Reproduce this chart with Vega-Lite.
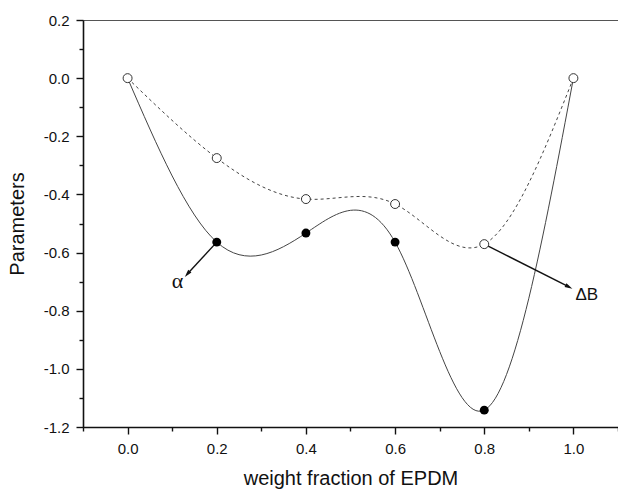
{
  "$schema": "https://vega.github.io/schema/vega-lite/v6.json",
  "width": 535,
  "height": 407,
  "autosize": {"type": "none"},
  "padding": {"left": 83, "top": 20, "right": 0, "bottom": 62},
  "background": "white",
  "config": {
    "view": {"stroke": "#555", "strokeWidth": 1},
    "font": "Liberation Sans",
    "axis": {
      "grid": false,
      "domainColor": "#111",
      "domainWidth": 1.6,
      "tickColor": "#111",
      "tickWidth": 1.4,
      "labelColor": "#111",
      "titleColor": "#111",
      "labelFont": "Liberation Sans",
      "titleFont": "Liberation Sans",
      "labelFontSize": 15,
      "titleFontSize": 20,
      "titleFontWeight": "normal"
    }
  },
  "datasets": {
    "curves": [
      {"s": "alpha", "x": 0.0, "y": 0.0},
      {"s": "alpha", "x": 0.2, "y": -0.564},
      {"s": "alpha", "x": 0.4, "y": -0.533},
      {"s": "alpha", "x": 0.6, "y": -0.564},
      {"s": "alpha", "x": 0.8, "y": -1.142},
      {"s": "alpha", "x": 1.0, "y": 0.0},
      {"s": "dB", "x": 0.0, "y": 0.0},
      {"s": "dB", "x": 0.2, "y": -0.275},
      {"s": "dB", "x": 0.4, "y": -0.416},
      {"s": "dB", "x": 0.6, "y": -0.433},
      {"s": "dB", "x": 0.8, "y": -0.571},
      {"s": "dB", "x": 1.0, "y": 0.0}
    ],
    "arrows": [
      {"name": "alpha", "x": 0.2, "y": -0.564, "x2": 0.134, "y2": -0.674},
      {"name": "dB", "x": 0.8, "y": -0.571, "x2": 0.99, "y2": -0.718}
    ],
    "labels": [
      {"label": "α", "font": "serif", "x": 0.112, "y": -0.697},
      {"label": "ΔB", "font": "sans", "x": 1.03, "y": -0.745}
    ]
  },
  "layer": [
    {
      "mark": {"type": "rule", "color": "#555", "strokeWidth": 1, "strokeDash": [6, 4]},
      "encoding": {
        "y": {"datum": 0, "type": "quantitative", "scale": {"domain": [-1.2, 0.2], "nice": false, "zero": false}, "axis": null}
      }
    },
    {
      "data": {"name": "curves"},
      "transform": [{"filter": "datum.s === 'alpha'"}],
      "mark": {"type": "line", "interpolate": "natural", "color": "#444", "strokeWidth": 1},
      "encoding": {
        "x": {"field": "x", "type": "quantitative", "scale": {"domain": [-0.1, 1.1], "nice": false, "zero": false},
          "axis": {"values": [0, 0.2, 0.4, 0.6, 0.8, 1.0], "labelExpr": "replace(format(datum.value, '.1f'), '\u2212', '-')", "tickSize": 7, "labelPadding": 7, "title": "weight fraction of EPDM", "titlePadding": 12}},
        "y": {"field": "y", "type": "quantitative", "scale": {"domain": [-1.2, 0.2], "nice": false, "zero": false},
          "axis": {"values": [-1.2, -1.0, -0.8, -0.6, -0.4, -0.2, 0.0, 0.2], "labelExpr": "replace(format(datum.value, '.1f'), '\u2212', '-')", "tickSize": 7, "labelPadding": 7, "title": "Parameters", "titlePadding": 16}}
      }
    },
    {
      "data": {"name": "curves"},
      "transform": [{"filter": "datum.s === 'dB'"}],
      "mark": {"type": "line", "interpolate": "natural", "color": "#444", "strokeWidth": 1, "strokeDash": [3, 3]},
      "encoding": {
        "x": {"field": "x", "type": "quantitative",
          "axis": {"values": [-0.1, 0.1, 0.3, 0.5, 0.7, 0.9, 1.1], "labels": false, "domain": false, "tickSize": 4, "title": null, "orient": "bottom"}},
        "y": {"field": "y", "type": "quantitative",
          "axis": {"values": [-1.1, -0.9, -0.7, -0.5, -0.3, -0.1, 0.1], "labels": false, "domain": false, "tickSize": 4, "title": null, "orient": "left"}}
      }
    },
    {
      "data": {"name": "arrows"},
      "mark": {"type": "rule", "color": "#111", "strokeWidth": 1.4},
      "encoding": {
        "x": {"field": "x", "type": "quantitative", "axis": null},
        "y": {"field": "y", "type": "quantitative", "axis": null},
        "x2": {"field": "x2"},
        "y2": {"field": "y2"}
      }
    },
    {
      "data": {"name": "arrows"},
      "transform": [{"filter": "datum.name === 'alpha'"}],
      "mark": {"type": "point", "shape": "M0,-1L0.55,1L-0.55,1Z", "filled": true, "color": "#111", "size": 60, "angle": 220, "opacity": 1},
      "encoding": {
        "x": {"field": "x2", "type": "quantitative", "axis": null},
        "y": {"field": "y2", "type": "quantitative", "axis": null}
      }
    },
    {
      "data": {"name": "arrows"},
      "transform": [{"filter": "datum.name === 'dB'"}],
      "mark": {"type": "point", "shape": "M0,-1L0.55,1L-0.55,1Z", "filled": true, "color": "#111", "size": 60, "angle": 117, "opacity": 1},
      "encoding": {
        "x": {"field": "x2", "type": "quantitative", "axis": null},
        "y": {"field": "y2", "type": "quantitative", "axis": null}
      }
    },
    {
      "data": {"name": "curves"},
      "transform": [{"filter": "datum.s === 'alpha' && datum.x > 0.1 && datum.x < 0.9"}],
      "mark": {"type": "point", "filled": true, "color": "#000", "size": 80, "opacity": 1},
      "encoding": {
        "x": {"field": "x", "type": "quantitative", "axis": null},
        "y": {"field": "y", "type": "quantitative", "axis": null}
      }
    },
    {
      "data": {"name": "curves"},
      "transform": [{"filter": "datum.s === 'dB'"}],
      "mark": {"type": "point", "filled": true, "fill": "white", "stroke": "#333", "strokeWidth": 1, "size": 80, "opacity": 1},
      "encoding": {
        "x": {"field": "x", "type": "quantitative", "axis": null},
        "y": {"field": "y", "type": "quantitative", "axis": null}
      }
    },
    {
      "data": {"name": "labels"},
      "transform": [{"filter": "datum.font === 'serif'"}],
      "mark": {"type": "text", "font": "Liberation Serif", "fontSize": 22, "color": "#111", "align": "center", "baseline": "middle"},
      "encoding": {
        "x": {"field": "x", "type": "quantitative", "axis": null},
        "y": {"field": "y", "type": "quantitative", "axis": null},
        "text": {"field": "label"}
      }
    },
    {
      "data": {"name": "labels"},
      "transform": [{"filter": "datum.font === 'sans'"}],
      "mark": {"type": "text", "font": "Liberation Sans", "fontSize": 17, "color": "#111", "align": "center", "baseline": "middle"},
      "encoding": {
        "x": {"field": "x", "type": "quantitative", "axis": null},
        "y": {"field": "y", "type": "quantitative", "axis": null},
        "text": {"field": "label"}
      }
    }
  ],
  "resolve": {"axis": {"x": "independent", "y": "independent"}}
}
